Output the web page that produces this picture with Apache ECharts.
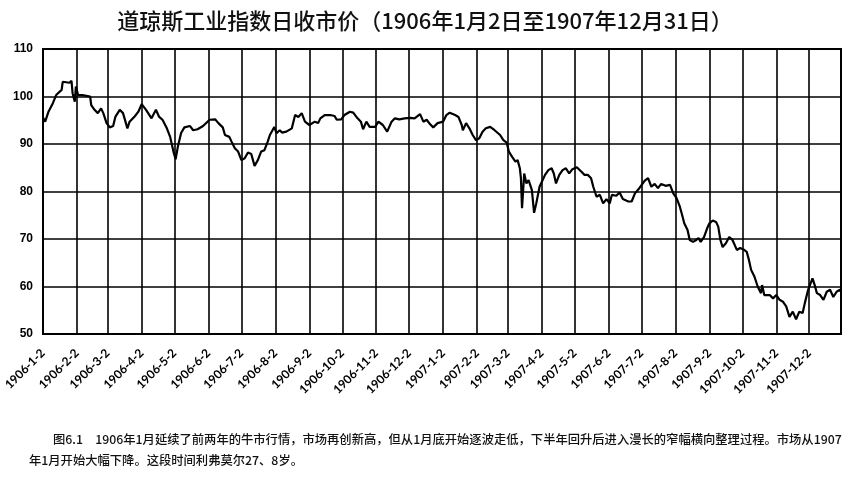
<!DOCTYPE html>
<html>
<head>
<meta charset="utf-8">
<script src="https://cdn.jsdelivr.net/npm/echarts@6/dist/echarts.min.js"></script>
<style>
html,body{margin:0;padding:0;background:#fff;}
#chart{width:850px;height:477px;}
</style>
</head>
<body>
<div id="chart"></div>
<script>
// ---- Data ----
const titleText = '道琼斯工业指数日收市价（1906年1月2日至1907年12月31日）';
const captionLine1 = '图6.1　1906年1月延续了前两年的牛市行情，市场再创新高，但从1月底开始逐波走低，下半年回升后进入漫长的窄幅横向整理过程。市场从1907';
const captionLine2 = '年1月开始大幅下降。这段时间利弗莫尔27、8岁。';
const startDate = '1906-1-2';
const endDate = '1907-12-31';
const yTicks = [50, 60, 70, 80, 90, 100, 110];

const dates = [
'1906-1-2','1906-1-4','1906-1-7','1906-1-11','1906-1-14','1906-1-19','1906-1-20','1906-1-26','1906-1-28','1906-1-29','1906-1-31',
'1906-2-1','1906-2-3','1906-2-7','1906-2-14','1906-2-15','1906-2-18','1906-2-21','1906-2-24','1906-2-26',
'1906-3-1','1906-3-4','1906-3-7','1906-3-9','1906-3-13','1906-3-16','1906-3-20','1906-3-22','1906-3-27','1906-3-30',
'1906-4-2','1906-4-6','1906-4-11','1906-4-15','1906-4-18','1906-4-21','1906-4-25','1906-4-28','1906-4-30',
'1906-5-1','1906-5-3','1906-5-5','1906-5-8','1906-5-11','1906-5-16','1906-5-19','1906-5-23','1906-5-28',
'1906-6-3','1906-6-8','1906-6-11','1906-6-15','1906-6-17','1906-6-21','1906-6-23','1906-6-26','1906-6-29',
'1906-7-2','1906-7-5','1906-7-8','1906-7-11','1906-7-14','1906-7-17','1906-7-20','1906-7-23','1906-7-26','1906-7-28',
'1906-8-1','1906-8-3','1906-8-6','1906-8-8','1906-8-12','1906-8-17','1906-8-20','1906-8-23','1906-8-26','1906-8-29',
'1906-9-2','1906-9-7','1906-9-10','1906-9-12','1906-9-16','1906-9-21','1906-9-25','1906-9-27',
'1906-10-1','1906-10-4','1906-10-9','1906-10-12','1906-10-16','1906-10-19','1906-10-21','1906-10-24','1906-10-27',
'1906-11-1','1906-11-4','1906-11-8','1906-11-12','1906-11-16','1906-11-19','1906-11-23','1906-11-28',
'1906-12-3','1906-12-7','1906-12-12','1906-12-15','1906-12-18','1906-12-21','1906-12-24','1906-12-28',
'1907-1-2','1907-1-5','1907-1-8','1907-1-13','1907-1-16','1907-1-19','1907-1-20','1907-1-23','1907-1-26','1907-1-29',
'1907-2-1','1907-2-4','1907-2-7','1907-2-10','1907-2-14','1907-2-18','1907-2-23','1907-2-26',
'1907-3-1','1907-3-3','1907-3-6','1907-3-9','1907-3-11','1907-3-13','1907-3-14','1907-3-15','1907-3-17','1907-3-19','1907-3-21','1907-3-24','1907-3-26','1907-3-28','1907-3-31',
'1907-4-5','1907-4-8','1907-4-11','1907-4-13','1907-4-15','1907-4-18','1907-4-21','1907-4-24','1907-4-27','1907-4-30',
'1907-5-4','1907-5-8','1907-5-11','1907-5-14','1907-5-17','1907-5-19','1907-5-22','1907-5-25','1907-5-28','1907-5-31',
'1907-6-3','1907-6-5','1907-6-9','1907-6-12','1907-6-15','1907-6-20','1907-6-23','1907-6-26','1907-6-30',
'1907-7-5','1907-7-8','1907-7-11','1907-7-14','1907-7-17','1907-7-20','1907-7-24','1907-7-28','1907-7-31',
'1907-8-3','1907-8-6','1907-8-8','1907-8-10','1907-8-13','1907-8-15','1907-8-18','1907-8-21','1907-8-23','1907-8-25','1907-8-28','1907-8-31',
'1907-9-2','1907-9-5','1907-9-8','1907-9-10','1907-9-12','1907-9-14','1907-9-17','1907-9-20','1907-9-23','1907-9-27','1907-9-30',
'1907-10-3','1907-10-6','1907-10-8','1907-10-10','1907-10-13','1907-10-16','1907-10-19','1907-10-20','1907-10-22','1907-10-27','1907-10-30',
'1907-11-2','1907-11-5','1907-11-8','1907-11-11','1907-11-14','1907-11-17','1907-11-20','1907-11-23','1907-11-26','1907-11-28',
'1907-12-1','1907-12-5','1907-12-7','1907-12-9','1907-12-12','1907-12-15','1907-12-18','1907-12-21','1907-12-24','1907-12-27','1907-12-30','1907-12-31'
];

const closes = [
95.6,94.7,96.8,98.6,100.3,101.4,103.1,102.9,103.3,100.7,98.9,
102.1,100.3,100.3,100.0,98.2,97.2,96.5,97.5,96.5,
94.4,93.5,93.8,95.7,97.2,96.5,93.3,94.7,95.9,96.8,
98.4,97.2,95.4,97.2,95.7,95.1,93.3,91.5,89.4,
88.4,86.8,89.4,92.3,93.5,93.8,92.9,93.1,93.8,
95.1,95.2,94.4,93.5,91.9,91.5,90.5,89.1,88.4,
86.6,87.0,88.2,87.9,85.4,86.6,88.4,88.7,90.5,91.9,
93.6,92.3,92.9,92.4,92.6,93.3,96.1,95.7,96.5,94.7,
94.0,94.7,94.4,95.4,96.1,96.1,95.9,95.1,
95.2,96.1,96.8,96.6,95.4,94.7,93.1,94.7,93.6,
93.6,94.7,94.0,92.6,94.7,95.4,95.2,95.4,
95.5,95.4,96.3,94.7,95.1,94.2,93.5,94.4,
94.7,96.1,96.6,96.1,95.7,94.0,92.9,94.4,93.3,91.9,
90.8,91.2,92.6,93.3,93.6,92.9,91.9,90.8,
90.3,88.4,87.3,86.3,86.6,84.9,82.8,76.5,83.8,81.7,82.4,80.3,75.5,77.5,81.0,
83.5,84.5,84.9,83.8,81.7,83.5,84.5,84.9,83.8,84.7,
85.1,84.2,83.5,83.5,82.8,81.0,78.9,79.3,77.5,78.4,
77.5,79.3,79.1,79.8,78.4,77.9,77.9,79.6,80.7,
82.3,82.8,81.0,81.6,80.7,81.6,81.2,81.4,79.6,
78.6,76.8,75.1,73.3,71.9,69.8,69.4,69.8,70.2,69.4,70.4,72.3,
73.3,73.9,73.6,72.6,69.8,68.3,69.1,70.4,69.8,67.7,68.1,
67.8,67.3,65.6,63.5,62.1,60.0,58.6,60.3,58.2,58.2,57.5,
58.2,57.2,56.8,55.8,53.6,54.7,53.1,54.7,54.4,56.5,
59.3,61.7,60.3,58.6,58.2,57.2,58.9,59.3,57.8,58.9,59.3,59.0
];

// ---- Category axis: every calendar day of the period ----
function parseD(s){ const p = s.split('-').map(Number); return new Date(Date.UTC(p[0], p[1]-1, p[2])); }
function fmtD(d){ return d.getUTCFullYear() + '-' + (d.getUTCMonth()+1) + '-' + d.getUTCDate(); }
const categories = [];
for (let d = parseD(startDate); d <= parseD(endDate); d = new Date(d.getTime() + 86400000)) {
  categories.push(fmtD(d));
}
const isMonthMark = (idx, val) => String(val).split('-')[2] === '2';

const seriesData = dates.map((d, i) => [d, closes[i]]);

const chart = echarts.init(document.getElementById('chart'), null, {renderer: 'canvas'});
chart.setOption({
  animation: false,
  backgroundColor: '#fff',
  title: {
    text: titleText,
    left: 'center',
    top: 5,
    textStyle: {
      fontFamily: '"Noto Sans CJK SC", sans-serif',
      fontSize: 22,
      fontWeight: 500,
      color: '#111'
    }
  },
  grid: {
    left: 43, right: 9, top: 49, bottom: 143,
    show: true,
    borderColor: '#000',
    borderWidth: 2,
    backgroundColor: 'transparent'
  },
  xAxis: {
    type: 'category',
    data: categories,
    boundaryGap: false,
    axisLine: { show: true, lineStyle: { color: '#000', width: 2 } },
    axisTick: { show: false },
    axisLabel: {
      interval: isMonthMark,
      rotate: 45,
      margin: 17,
      color: '#000',
      fontFamily: 'Lato, "Open Sans", sans-serif',
      fontWeight: 'bold',
      fontSize: 12,
      hideOverlap: false
    },
    splitLine: {
      show: true,
      interval: isMonthMark,
      lineStyle: { color: '#000', width: 1.6 }
    }
  },
  yAxis: {
    type: 'value',
    min: yTicks[0],
    max: yTicks[yTicks.length - 1],
    interval: 10,
    axisLine: { show: true, lineStyle: { color: '#000', width: 2 } },
    axisTick: { show: false },
    axisLabel: {
      color: '#000',
      margin: 10,
      fontFamily: '"Liberation Sans", Arial, sans-serif',
      fontWeight: 'bold',
      fontSize: 12
    },
    splitLine: { show: true, lineStyle: { color: '#000', width: 1.6 } }
  },
  series: [{
    type: 'line',
    data: seriesData,
    showSymbol: false,
    symbol: 'none',
    lineStyle: { color: '#000', width: 2.2 },
    z: 5
  }],
  graphic: [
    {
      type: 'text', left: 53, top: 433,
      style: { text: captionLine1, fill: '#111', fontSize: 12.3, fontWeight: 500, fontFamily: '"Noto Sans CJK SC", sans-serif' }
    },
    {
      type: 'text', left: 29, top: 454,
      style: { text: captionLine2, fill: '#111', fontSize: 12.3, fontWeight: 500, fontFamily: '"Noto Sans CJK SC", sans-serif' }
    }
  ]
});
</script>
</body>
</html>
